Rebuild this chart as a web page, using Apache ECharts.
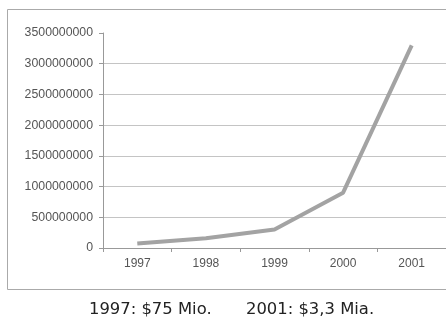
<!DOCTYPE html>
<html>
<head>
<meta charset="utf-8">
<script src="https://cdn.jsdelivr.net/npm/echarts@6/dist/echarts.min.js"></script>
<style>html,body{margin:0;padding:0;background:#fff;}#c{width:446px;height:320px;}</style>
</head>
<body>
<div id="c"></div>
<script>
var years = ['1997', '1998', '1999', '2000', '2001'];
var revenue = [75000000, 160000000, 300000000, 900000000, 3300000000];
var captionLeft = '1997: $75 Mio.';
var captionRight = '2001: $3,3 Mia.';

var chart = echarts.init(document.getElementById('c'), null, {renderer: 'canvas'});
chart.setOption({
  animation: false,
  backgroundColor: '#fff',
  grid: {left: 103, right: 0, top: 33, bottom: 72},
  xAxis: {
    type: 'category',
    data: years,
    boundaryGap: true,
    axisLine: {lineStyle: {color: '#999', width: 1}},
    axisTick: {show: true, length: 4, lineStyle: {color: '#999'}},
    axisLabel: {color: '#555', fontSize: 12, fontFamily: "'Liberation Sans', Arial, sans-serif", margin: 10}
  },
  yAxis: {
    type: 'value',
    min: 0, max: 3500000000, interval: 500000000,
    axisLine: {show: true, lineStyle: {color: '#999', width: 1}},
    axisTick: {show: true, length: 4, lineStyle: {color: '#999'}},
    axisLabel: {color: '#555', fontSize: 12.3, fontFamily: "'Liberation Sans', Arial, sans-serif", margin: 10,
      formatter: function (v) { return String(v); }},
    splitLine: {show: true, showMaxLine: false, lineStyle: {color: '#c4c4c4', width: 1}}
  },
  series: [{
    type: 'line',
    data: revenue,
    symbol: 'none',
    lineStyle: {color: '#a3a3a3', width: 4}
  }],
  graphic: [
    {type: 'rect', shape: {x: 7.5, y: 9.5, width: 460, height: 280}, style: {fill: 'none', stroke: '#aaa', lineWidth: 1}, silent: true},
    {type: 'text', left: 89, top: 302, style: {text: captionLeft, fontSize: 16.4, fill: '#222', fontFamily: "'DejaVu Sans', sans-serif"}},
    {type: 'text', left: 246, top: 302, style: {text: captionRight, fontSize: 16.4, fill: '#222', fontFamily: "'DejaVu Sans', sans-serif"}}
  ]
});
</script>
</body>
</html>
